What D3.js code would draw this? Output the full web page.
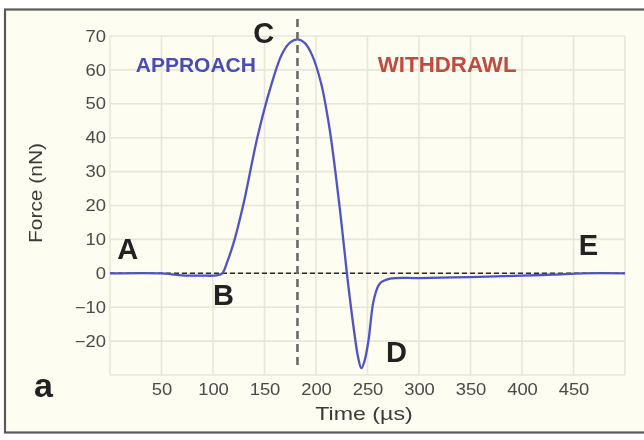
<!DOCTYPE html>
<html>
<head>
<meta charset="utf-8">
<script src="https://cdn.jsdelivr.net/npm/d3@7"></script>
<style>
  html, body { margin: 0; padding: 0; background: #ffffff; }
  svg { display: block; }
  text { font-family: "Liberation Sans", Arial, Helvetica, sans-serif; }
</style>
</head>
<body>
<svg id="chart" width="644" height="440"></svg>
<script>
// Force-time trace of a single tapping cycle
const timeUs = [0, 50, 60, 70, 90, 104, 109, 114, 121, 130, 143, 156, 167, 175, 182,
                189, 196, 205, 213, 220, 225, 230, 236, 241, 244, 247, 251, 256, 262,
                272, 300, 350, 400, 430, 460, 500];
const forceNN = [0, 0, -0.3, -0.6, -0.7, -0.6, 0, 3.5, 10, 21, 40, 55, 64.7, 68.1, 69,
                 68, 64.5, 56, 43, 27, 14, 0, -14.8, -25, -28, -26, -19.7, -8, -3,
                 -1.6, -1.4, -1.1, -0.7, -0.4, 0, 0];

const xTicks = [50, 100, 150, 200, 250, 300, 350, 400, 450];
const yTicks = [-20, -10, 0, 10, 20, 30, 40, 50, 60, 70];
const xGrid = [0, 50, 100, 150, 200, 250, 300, 350, 400, 450, 500];
const yGrid = [-30, -20, -10, 0, 10, 20, 30, 40, 50, 60, 70];

const peakTime = 182;
const phaseLabels = [
  { text: "APPROACH", t: 25, f: 59.5, color: "#4a4cb8", size: 21 },
  { text: "WITHDRAWL", t: 260, f: 59.5, color: "#c2493d", size: 22.3 }
];
const pointLabels = [
  { text: "A", t: 7, f: 4.2 },
  { text: "B", t: 100, f: -9.4 },
  { text: "C", t: 139, f: 67.9 },
  { text: "D", t: 268, f: -26.2 },
  { text: "E", t: 455, f: 5.4 }
];

const svg = d3.select("#chart");
const W = 644, H = 440;
const plot = { left: 110, right: 625, top: 36, bottom: 375 };

const x = d3.scaleLinear().domain([0, 500]).range([plot.left, plot.right]);
const y = d3.scaleLinear().domain([-30, 70]).range([plot.bottom, plot.top]);

// soft look of the printed figure
const defs = svg.append("defs");
defs.append("filter").attr("id", "soft")
  .attr("x", 0).attr("y", 0).attr("width", 1).attr("height", 1)
  .append("feGaussianBlur").attr("stdDeviation", 0.45);

const root = svg.append("g").attr("filter", "url(#soft)");

// framed panel
root.append("rect")
  .attr("x", 0).attr("y", 0).attr("width", W).attr("height", H).attr("fill", "#ffffff");
root.append("rect")
  .attr("x", 5).attr("y", 9.5).attr("width", 660).attr("height", 423)
  .attr("fill", "#fdfdf1").attr("stroke", "#5a5a5a").attr("stroke-width", 2.2);

// grid
const grid = root.append("g");
grid.selectAll("line.v").data(xGrid).join("line")
  .attr("x1", d => x(d)).attr("x2", d => x(d))
  .attr("y1", plot.top).attr("y2", plot.bottom)
  .attr("stroke", "#e7e7d8").attr("stroke-width", 1.6);
grid.selectAll("line.h").data(yGrid).join("line")
  .attr("x1", plot.left).attr("x2", plot.right)
  .attr("y1", d => y(d)).attr("y2", d => y(d))
  .attr("stroke", "#e7e7d8").attr("stroke-width", 1.6);

// axes (labels only)
const fmt = d => d < 0 ? "\u2212" + Math.abs(d) : String(d);
const yAxis = root.append("g")
  .attr("transform", `translate(${plot.left - 4},0)`)
  .call(d3.axisLeft(y).tickValues(yTicks).tickSize(0).tickPadding(0).tickFormat(fmt));
const xAxis = root.append("g")
  .attr("transform", `translate(0,${plot.bottom + 6})`)
  .call(d3.axisBottom(x).tickValues(xTicks).tickSize(0).tickPadding(0).tickFormat(fmt));
[yAxis, xAxis].forEach(a => {
  a.select(".domain").remove();
  a.selectAll("text")
    .attr("fill", "#4a4a4a")
    .style("font-size", "16px")
    .style("font-family", "'Liberation Sans', Arial, sans-serif");
});
xAxis.selectAll("text").attr("dy", "0.9em");

// axis titles
root.append("text")
  .attr("x", 364).attr("y", 420)
  .attr("text-anchor", "middle")
  .attr("fill", "#3a3a3a")
  .style("font-size", "19px")
  .attr("class", "wide")
  .text("Time (\u00b5s)");
root.append("text")
  .attr("transform", "translate(42,193) rotate(-90)")
  .attr("text-anchor", "middle")
  .attr("fill", "#3a3a3a")
  .style("font-size", "19px")
  .attr("class", "wide-y")
  .text("Force (nN)");

// zero reference
root.append("line")
  .attr("x1", x(0)).attr("x2", x(500))
  .attr("y1", y(0)).attr("y2", y(0))
  .attr("stroke", "#2b2b2b").attr("stroke-width", 1.5)
  .attr("stroke-dasharray", "5,3");

// force curve
const line = d3.line()
  .x((d, i) => x(timeUs[i]))
  .y((d, i) => y(forceNN[i]))
  .curve(d3.curveCatmullRom.alpha(0.5));
root.append("path")
  .datum(forceNN)
  .attr("d", line)
  .attr("fill", "none")
  .attr("stroke", "#4f52c8")
  .attr("stroke-width", 2.3);

// peak marker
root.append("line")
  .attr("x1", x(peakTime)).attr("x2", x(peakTime))
  .attr("y1", 19).attr("y2", 366)
  .attr("stroke", "#6a6a6a").attr("stroke-width", 2.6)
  .attr("stroke-dasharray", "8,5");

// phase labels
root.selectAll("text.phase").data(phaseLabels).join("text")
  .attr("class", "phase")
  .attr("x", d => x(d.t)).attr("y", d => y(d.f))
  .attr("fill", d => d.color)
  .style("font-size", d => d.size + "px").style("font-weight", "bold")
  .text(d => d.text);

// point labels
root.selectAll("text.pt").data(pointLabels).join("text")
  .attr("class", "pt")
  .attr("x", d => x(d.t)).attr("y", d => y(d.f))
  .attr("fill", "#222222")
  .style("font-size", "29px").style("font-weight", "bold")
  .text(d => d.text);

// panel letter
root.append("text")
  .attr("x", 34).attr("y", 397)
  .attr("fill", "#222222")
  .style("font-size", "34px").style("font-weight", "bold")
  .text("a");

// axis lettering is set slightly wide
function widen(sel, k) {
  sel.each(function () {
    const len = this.getComputedTextLength();
    d3.select(this).attr("textLength", len * k).attr("lengthAdjust", "spacingAndGlyphs");
  });
}
widen(yAxis.selectAll("text"), 1.15);
widen(xAxis.selectAll("text"), 1.15);
widen(root.selectAll("text.wide"), 1.22);
widen(root.selectAll("text.wide-y"), 1.1);
</script>
</body>
</html>
